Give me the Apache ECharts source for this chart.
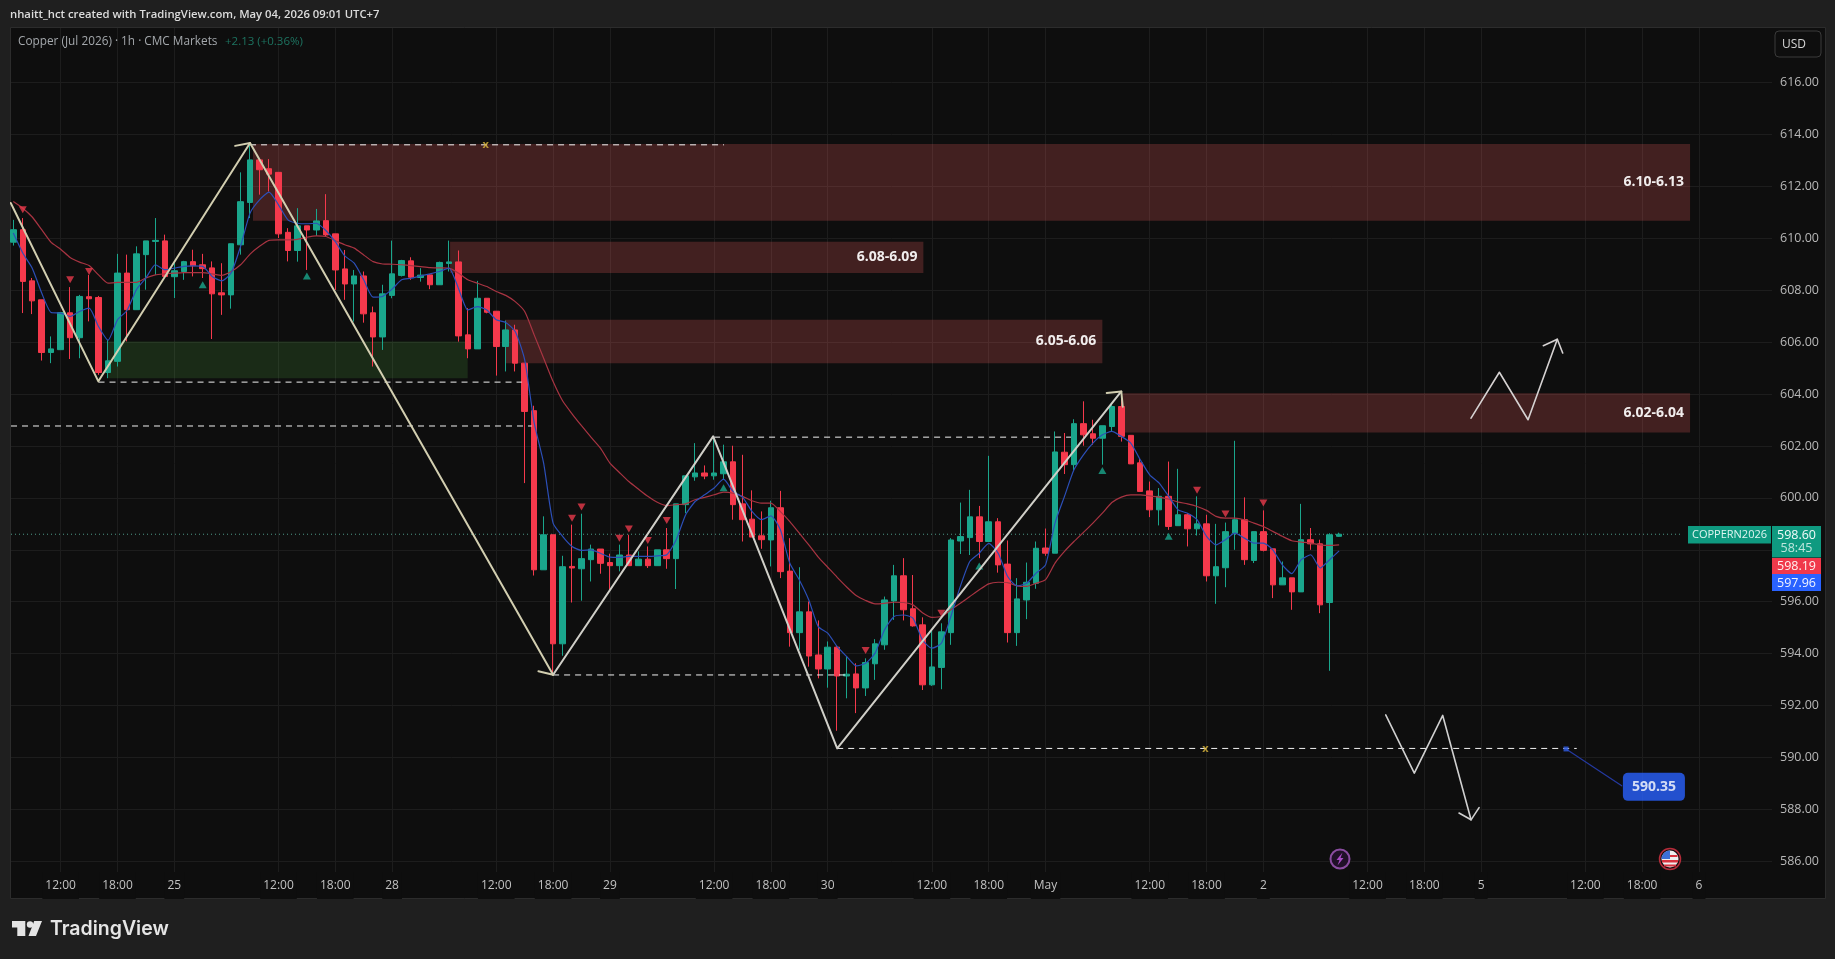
<!DOCTYPE html>
<html><head><meta charset="utf-8">
<style>html,body{margin:0;padding:0;background:#1f1f1f;overflow:hidden}#c{width:1835px;height:959px}</style>
<script src="https://cdn.jsdelivr.net/npm/echarts@6/dist/echarts.min.js"></script>
</head><body><div id="c"></div>
<script>
// open, close, low, high per hourly bar
const candles = [
[609.85,610.33,609.72,610.71],[610.33,608.34,607.12,610.78],[608.36,607.59,607.08,608.47],[607.63,605.60,605.29,607.63],[605.60,605.74,605.19,606.22],
[605.71,607.14,605.71,607.14],[607.13,606.17,605.35,608.12],[606.17,607.76,605.38,607.82],[607.75,607.67,606.80,608.59],[607.72,604.83,604.74,607.78],
[604.83,605.28,604.61,606.09],[605.26,608.66,605.06,609.40],[608.66,607.25,606.03,609.37],[607.25,609.40,607.25,609.69],[609.37,609.90,608.02,609.90],
[609.88,609.92,608.59,610.78],[609.90,608.53,608.47,610.14],[608.52,608.75,607.70,609.04],[608.72,609.10,608.40,609.13],[609.10,608.94,608.53,609.56],
[608.98,608.83,608.47,609.40],[608.86,607.86,606.12,609.11],[607.90,607.82,607.05,609.04],[607.82,609.79,607.29,609.79],[609.75,611.41,609.37,612.54],
[611.38,613.02,610.78,613.67],[613.02,612.64,611.68,613.02],[612.68,612.47,611.80,613.05],[612.54,610.17,610.01,612.54],[610.23,609.53,609.11,610.39],
[609.53,610.48,609.10,611.16],[610.48,610.32,608.78,610.48],[610.32,610.67,610.09,611.13],[610.68,610.13,610.07,611.70],[610.17,608.78,608.01,610.17],
[608.82,608.24,607.63,609.55],[608.24,608.55,606.79,608.78],[608.55,607.09,606.75,608.72],[607.13,606.20,605.06,607.37],[606.20,607.86,605.70,608.21],
[607.80,608.63,607.69,609.91],[608.57,609.14,608.53,609.17],[609.13,608.50,608.40,609.27],[608.49,608.58,608.33,608.85],[608.59,608.21,608.04,608.63],
[608.21,609.07,608.21,609.10],[609.03,609.09,608.72,609.91],[609.09,606.24,606.02,609.53],[606.28,605.74,605.38,607.31],[605.74,607.69,605.74,608.36],
[607.69,607.15,607.11,607.69],[607.19,605.83,604.71,607.19],[605.83,606.47,604.87,606.83],[606.47,605.19,604.87,606.67],[605.19,603.33,600.57,605.19],
[603.36,597.23,597.01,603.55],[597.23,598.58,597.23,599.29],[598.58,594.38,593.19,598.58],[594.38,597.35,593.92,597.77],[597.36,597.30,595.97,598.97],
[597.27,597.66,596.04,599.39],[597.62,598.03,596.78,598.20],[598.03,597.48,597.08,598.03],[597.51,597.39,596.46,597.85],[597.39,597.80,597.17,598.20],
[597.80,597.39,597.39,598.58],[597.39,597.64,597.39,597.94],[597.64,597.39,597.30,598.13],[597.39,598.00,597.39,598.00],[598.00,597.66,597.27,598.84],
[597.66,599.77,596.49,599.77],[599.74,600.85,599.41,600.85],[600.81,600.96,600.66,602.11],[600.96,600.84,600.72,601.25],[600.85,600.96,600.70,602.37],
[600.93,601.39,600.70,602.05],[601.39,599.74,599.16,602.01],[599.77,599.16,598.32,601.66],[599.18,598.49,598.49,600.29],[598.54,598.39,598.04,599.48],
[598.38,599.62,597.36,599.89],[599.62,597.16,596.91,600.27],[597.18,594.81,594.27,598.45],[594.81,595.61,594.15,597.33],[595.61,593.91,593.50,596.01],
[593.95,593.41,593.05,595.28],[593.41,594.25,592.69,594.47],[594.25,593.14,591.03,594.30],[593.14,593.21,592.28,593.89],[593.22,592.68,591.71,593.63],
[592.68,593.66,592.37,593.82],[593.61,594.38,592.99,594.56],[594.34,596.07,594.15,596.20],[596.03,597.00,595.30,597.42],[597.00,595.69,595.28,597.68],
[595.73,595.07,595.04,597.03],[595.11,592.80,592.60,595.40],[592.80,593.49,592.76,594.92],[593.47,594.84,592.63,595.17],[594.81,598.38,594.34,598.45],
[598.34,598.51,597.84,599.82],[598.47,599.27,597.80,600.31],[599.27,598.32,597.68,599.69],[598.32,599.08,598.32,601.62],[599.08,597.42,597.12,599.22],
[597.45,594.81,594.43,598.36],[594.81,596.11,594.30,596.91],[596.07,596.75,595.33,597.51],[596.71,598.06,596.50,598.32],[598.07,597.87,597.77,598.82],
[597.87,601.77,597.87,602.56],[601.76,601.28,600.92,602.50],[601.28,602.86,601.06,603.03],[602.86,602.43,602.01,603.72],[602.47,602.30,602.05,603.01],
[602.30,602.78,601.28,602.78],[602.75,603.52,602.56,603.65],[603.52,602.37,602.17,603.97],[602.41,601.31,601.31,602.41],[601.35,600.25,600.25,601.53],
[600.27,599.54,599.26,600.63],[599.54,600.06,598.94,600.38],[600.06,598.90,598.77,601.40],[598.93,599.35,598.93,601.12],[599.35,598.81,598.13,599.41],
[598.81,599.00,598.55,600.06],[599.00,597.00,596.78,599.35],[597.00,597.35,595.92,599.00],[597.31,598.70,596.56,599.05],[598.64,599.16,598.00,602.20],
[599.16,597.62,597.42,600.02],[597.59,598.70,597.49,598.70],[598.70,597.98,597.94,599.52],[598.04,596.65,596.14,598.04],[596.65,596.92,596.65,597.55],
[596.92,596.38,595.69,596.92],[596.38,598.39,596.38,599.77],[598.39,598.23,598.00,598.84],[598.23,595.88,595.56,598.39],[595.97,598.58,593.34,598.64],
[598.52,598.60,598.50,598.66]];

const maFast = [610.2,609.43,608.85,607.89,607.14,607.12,606.99,607.18,607.31,606.60,606.07,606.86,607.22,608.02,608.47,608.98,608.79,608.85,608.92,608.94,
608.92,608.53,608.36,608.66,609.69,610.97,611.48,611.78,611.29,610.71,610.58,610.56,610.58,610.30,609.87,609.32,609.04,608.40,607.73,607.76,
608.04,608.40,608.46,608.55,608.63,608.72,608.85,608.08,607.24,607.37,607.24,606.86,606.76,606.41,605.32,602.9,601.34,599.03,598.52,598.13,
597.98,598.0,597.87,597.72,597.71,597.75,597.75,597.75,597.77,597.81,598.39,599.35,599.86,600.12,600.38,600.72,600.25,600.03,599.48,599.16,
599.31,598.77,597.48,596.84,596.07,595.04,594.79,594.27,593.89,593.53,593.63,594.02,594.92,595.43,595.49,595.37,594.53,594.21,594.40,595.43,
596.59,597.55,597.87,598.25,597.87,596.97,596.61,596.71,597.10,597.42,599.03,600.06,601.08,601.66,602.11,602.43,602.56,602.37,602.11,601.47,
600.89,600.57,600.06,599.54,599.41,599.16,598.52,598.19,598.39,598.64,598.45,598.26,598.26,598.0,597.42,597.08,597.62,597.81,597.30,597.62,597.96];

const maSlow = [611.42,611.16,610.82,610.33,609.84,609.58,609.26,609.08,608.95,608.59,608.27,608.30,608.30,608.30,608.47,608.59,608.63,608.66,608.68,608.68,
608.68,608.63,608.57,608.72,608.98,609.39,609.69,609.92,609.94,609.94,609.96,610.04,610.09,610.07,609.91,609.75,609.62,609.36,609.10,609.01,
609.00,608.98,608.95,608.91,608.87,608.86,608.85,608.66,608.40,608.27,608.14,607.95,607.80,607.56,607.18,606.28,605.38,604.48,603.74,603.24,
602.78,602.34,601.92,601.34,600.98,600.63,600.34,600.06,599.83,599.70,599.74,599.77,599.93,600.02,600.12,600.22,600.18,600.06,599.89,599.80,
599.80,599.47,599.09,598.64,598.19,597.72,597.33,596.94,596.57,596.24,596.05,595.92,595.94,595.98,595.97,595.88,595.58,595.40,595.43,595.69,
595.94,596.20,596.46,596.69,596.75,596.74,596.61,596.59,596.71,596.85,597.49,597.94,598.32,598.67,599.03,599.41,599.82,600.03,600.12,600.12,
600.08,600.03,599.95,599.84,599.77,599.67,599.52,599.29,599.22,599.22,599.16,599.03,598.90,598.71,598.52,598.35,598.30,598.26,598.19,598.17,598.19];

const xTickIndex = [5,11,17,28,34,40,51,57,63,74,80,86,97,103,109,120,126,132,143,149,155,166,172,178];
const xTickLabels = ['12:00','18:00','25','12:00','18:00','28','12:00','18:00','29','12:00','18:00','30','12:00','18:00','May','12:00','18:00','2','12:00','18:00','5','12:00','18:00','6'];
const yTicks = [586,588,590,592,594,596,598,600,602,604,606,608,610,612,614,616];

const zoneStart = [25.31,46.12,51.92,117.15];
const zoneEnd   = [177.06,96.1,115.0,177.06];
const zoneTop   = [613.63,609.87,606.86,604.03];
const zoneBot   = [610.68,608.66,605.19,602.52];
const zoneText  = ['6.10-6.13','6.08-6.09','6.05-6.06','6.02-6.04'];
const demandZone = [[10.0,606.02],[47.98,604.61]];

const zigzagA = [[-0.27,611.36],[8.98,604.49],[25,613.67],[57,593.19]];
const zigzagB = [[57,593.19],[73.9,602.37],[87,590.35],[117,604.1]];
const arrowHeads = [
 [[23.42,613.56],[25,613.67]],
 [[55.45,593.32],[57,593.19]],
 [[115.46,604.04],[117,604.1],[117.15,603.51]]];
const dashedLines = [
 [[25,613.6],[75.05,613.6]],
 [[9,604.46],[53.69,604.46]],
 [[-0.24,602.77],[54.74,602.77]],
 [[57,593.18],[88.35,593.18]],
 [[74,602.34],[111.69,602.34]],
 [[87,590.35],[165.09,590.35]]];
const crossMarks = [[49.88,613.6],[125.88,590.35]];
const upPath = [[153.93,603.07],[156.92,604.84],[159.95,603.01],[163.04,606.11]];
const upHead = [[161.56,605.86],[163.04,606.11],[163.61,605.58]];
const downPath = [[144.92,591.64],[147.94,589.40],[150.94,591.62],[153.93,587.60]];
const downHead = [[152.66,587.86],[153.93,587.60],[154.78,588.07]];
const signalsDown = [[1,611.10],[6,608.40],[8,608.72],[59,599.22],[60,599.65],[64,598.45],[65,598.80],[67,598.36],[69,599.13],[90,594.12],[98,595.56],[125,600.29],[128,599.38],[132,599.80]];
const signalsUp = [[20,608.21],[31,608.55],[75,600.39],[102,597.38],[115,601.06],[122,598.52]];
const lastPrice = 598.60;
const targetDot = [163.96,590.33];
const targetTag = [173.24,588.87];
const targetLeader = [[163.96,590.33],[169.84,588.91]];

const FONT = '"Open Sans","Noto Sans",sans-serif';
const GREEN='#1aa68c', RED='#f5394c';
function seg(data,color,width,extra){return Object.assign({type:'line',data:data,symbol:'none',silent:true,z:6,clip:false,animation:false,
  lineStyle:{color:color,width:width,cap:'round',join:'round'}},extra||{});}
function dash(data){return {type:'line',data:data,symbol:'none',silent:true,z:5,animation:false,lineStyle:{color:'#f2f2f2',width:1,type:[6,5]}};}

const series = [
 {type:'line',data:[],silent:true,markArea:{silent:true,z:1,animation:false,data:
   zoneText.map((t,i)=>[{coord:[zoneStart[i],zoneTop[i]],itemStyle:{color:'rgba(235,90,90,0.24)'},
      label:{show:true,position:'insideRight',distance:6,formatter:t,color:'#f1eded',fontWeight:'bold',fontSize:14,fontFamily:FONT}},
     {coord:[zoneEnd[i],zoneBot[i]]}]).concat([[{coord:demandZone[0],itemStyle:{color:'rgba(90,190,70,0.17)'},label:{show:false}},{coord:demandZone[1]}]])}},
 {type:'line',data:[[-0.24,lastPrice],[176,lastPrice]],symbol:'none',silent:true,z:1,animation:false,lineStyle:{color:'#4f9c8a',width:1,type:[1,3]}},
 {type:'candlestick',data:candles.map((c,i)=>[i].concat(c)),barWidth:6,clip:false,z:3,silent:true,animation:false,
  itemStyle:{color:GREEN,color0:RED,borderColor:GREEN,borderColor0:RED,borderWidth:1}},
 {type:'line',data:maSlow.map((v,i)=>[i,v]),symbol:'none',silent:true,z:4,smooth:0.2,animation:false,lineStyle:{color:'#a83442',width:1.2}},
 {type:'line',data:maFast.map((v,i)=>[i,v]),symbol:'none',silent:true,z:4,smooth:0.2,animation:false,lineStyle:{color:'#2c4fb8',width:1.2}},
 {type:'scatter',data:signalsDown,symbol:'triangle',symbolRotate:180,symbolSize:[8,7],silent:true,z:5,animation:false,itemStyle:{color:'#e8394b'}},
 {type:'scatter',data:signalsUp,symbol:'triangle',symbolSize:[8,7],silent:true,z:5,animation:false,itemStyle:{color:GREEN}},
 seg(zigzagA,'#d2ceb0',2),seg(zigzagB,'#d0cfc8',2),
 seg(upPath,'#d6d2d2',1.6),seg(upHead,'#d6d2d2',1.6),seg(downPath,'#d0d0d0',1.6),seg(downHead,'#d0d0d0',1.6)
].concat(arrowHeads.map(h=>seg(h,'#d2ceb0',2)),dashedLines.map(dash),[
 {type:'scatter',data:crossMarks,symbolSize:1,silent:true,z:7,animation:false,itemStyle:{color:'transparent'},
   label:{show:true,position:'inside',formatter:'x',color:'#d9b53c',fontSize:11,fontWeight:'bold',fontFamily:FONT}},
 seg(targetLeader,'#2439a0',1.2),
 {type:'scatter',data:[targetDot],symbol:'rect',symbolSize:5,silent:true,z:7,animation:false,itemStyle:{color:'#2f5be0'}},
 {type:'scatter',data:[targetTag],symbolSize:1,silent:true,z:7,animation:false,itemStyle:{color:'transparent'},
   label:{show:true,position:'inside',formatter:'590.35',color:'#fff',fontWeight:'bold',fontSize:14,lineHeight:16,fontFamily:FONT,
     backgroundColor:'#2962ff',borderRadius:5,padding:[6,9,6,9]}}
]);

function T(x,y,t,o){return {type:'text',silent:true,z:20,x:x,y:y,style:Object.assign({text:t,fill:'#d8d8d8',font:'12px '+FONT,textVerticalAlign:'middle'},o||{})};}
function R(x,y,w,h,c,z){return {type:'rect',silent:true,z:z===undefined?19:z,shape:{x:x,y:y,width:w,height:h},style:{fill:c}};}

const graphic = [
 {type:'rect',silent:true,z:-10,shape:{x:10.5,y:27.5,width:1815,height:871},style:{fill:'#0e0e0e',stroke:'#2c2c2c',lineWidth:1}},
 T(10,15,'nhaitt_hct created with TradingView.com, May 04, 2026 09:01 UTC+7',{font:'600 11.3px '+FONT,fill:'#dcdcdc'}),
 T(18,41.5,'Copper (Jul 2026) · 1h · CMC Markets',{font:'11.8px '+FONT,fill:'#a4a8ac'}),
 T(225,41.5,'+2.13 (+0.36%)',{font:'11.5px '+FONT,fill:'#1d7360'}),
 {type:'rect',silent:true,z:19,shape:{x:1775,y:31,width:46,height:26,r:4},style:{fill:'#0e0e0e',stroke:'#3a3a3a',lineWidth:1}},
 T(1794,44.5,'USD',{font:'12px '+FONT,fill:'#d4d4d4',textAlign:'center'}),
 R(1688,526,83,17.5,'#0f9a80'),
 T(1729.5,535,'COPPERN2026',{font:'11px '+FONT,fill:'#dff6f1',textAlign:'center'}),
 R(1772,526,49,31.5,'#0f9a80'),
 T(1796.5,535,'598.60',{font:'12.5px '+FONT,fill:'#f2fbf9',textAlign:'center'}),
 T(1796.5,548.5,'58:45',{font:'12.5px '+FONT,fill:'#bfe6dd',textAlign:'center'}),
 R(1772,558,49,16,'#f0394b'),
 T(1796.5,566,'598.19',{font:'12.5px '+FONT,fill:'#fff0f0',textAlign:'center'}),
 R(1772,574,49,17,'#2962ff'),
 T(1796.5,583,'597.96',{font:'12.5px '+FONT,fill:'#f0f4ff',textAlign:'center'}),
 {type:'circle',silent:true,z:19,shape:{cx:1340,cy:859,r:9.5},style:{fill:'#201028',stroke:'#8a4ca0',lineWidth:2}},
 {type:'polygon',silent:true,z:20,shape:{points:[[1342.5,852.5],[1336.5,860],[1339.5,860],[1337.5,865.5],[1343.5,858],[1340.5,858]]},style:{fill:'#a74bc4'}},
 {type:'circle',silent:true,z:19,shape:{cx:1670,cy:859,r:10.5},style:{fill:'#1a0c0e',stroke:'#b52c3a',lineWidth:1.5}},
 {type:'circle',silent:true,z:19,shape:{cx:1670,cy:859,r:8.5},style:{fill:'#efefef'}},
 {type:'rect',silent:true,z:20,shape:{x:1662,y:860,width:16,height:2.5},style:{fill:'#d9333f'}},
 {type:'rect',silent:true,z:20,shape:{x:1664,y:864.5,width:12,height:2},style:{fill:'#d9333f'}},
 {type:'rect',silent:true,z:20,shape:{x:1670,y:855,width:7.5,height:2},style:{fill:'#d9333f'}},
 {type:'sector',silent:true,z:21,shape:{cx:1670,cy:859,r:8.5,r0:0,startAngle:Math.PI,endAngle:Math.PI*1.5},style:{fill:'#3b6fd6'}},
 {type:'polygon',silent:true,z:20,shape:{points:[[12,921],[25.3,921],[25.3,936],[17.3,936],[17.3,927.5],[12,927.5]]},style:{fill:'#e4e4e4'}},
 {type:'circle',silent:true,z:20,shape:{cx:30,cy:924.5,r:3.2},style:{fill:'#e4e4e4'}},
 {type:'polygon',silent:true,z:20,shape:{points:[[42,921],[36,936],[28.5,936],[34.2,921]]},style:{fill:'#e4e4e4'}},
 T(50,929.5,'TradingView',{font:'600 19.5px Inter,'+FONT,fill:'#e6e6e6'})
];

const chart = echarts.init(document.getElementById('c'),null,{renderer:'canvas'});
chart.setOption({
 animation:false,backgroundColor:'#1f1f1f',graphic:graphic,
 grid:{left:11,top:28,width:1761,height:871,containLabel:false},
 xAxis:{type:'value',min:-0.243,max:185.71,position:'bottom',scale:true,
   axisLine:{show:false},
   axisTick:{show:false,customValues:xTickIndex},
   splitLine:{show:true,lineStyle:{color:'#1d1d1d',width:1}},
   axisLabel:{show:true,inside:true,margin:0,customValues:xTickIndex,color:'#c2c2c2',fontSize:12,fontFamily:FONT,lineHeight:13,padding:[7,3,7,3],backgroundColor:'#0e0e0e',
     formatter:function(v){const k=xTickIndex.indexOf(Math.round(v));return k<0?'':xTickLabels[k];}}},
 yAxis:{type:'value',position:'right',min:584.55,max:618.1,scale:true,
   axisLine:{show:false},
   axisTick:{show:false,customValues:yTicks},
   splitLine:{show:true,lineStyle:{color:'#1d1d1d',width:1}},
   axisLabel:{show:true,margin:8,customValues:yTicks,color:'#b8b8b8',fontSize:12.5,fontFamily:FONT,padding:[2,0,0,0],formatter:function(v){return v.toFixed(2);}}},
 series:series
});
</script></body></html>
